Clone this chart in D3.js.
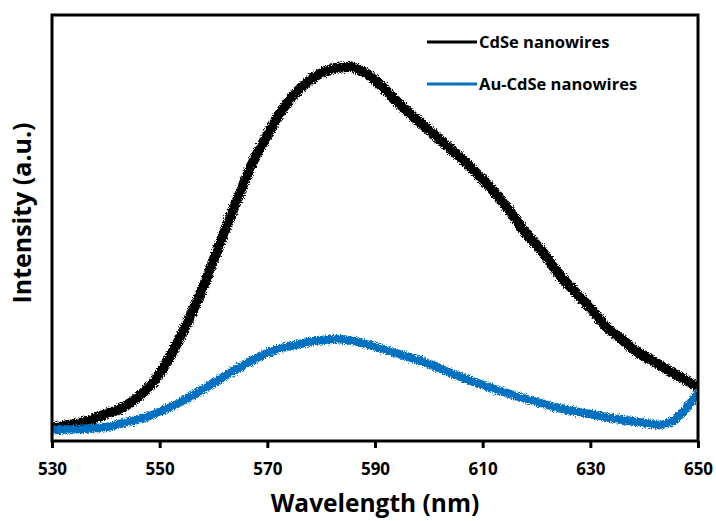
<!DOCTYPE html>
<html>
<head>
<meta charset="utf-8">
<script src="https://cdn.jsdelivr.net/npm/d3@7"></script>
<style>
  html, body { margin: 0; padding: 0; background: #fff; }
  svg { display: block; }
  text { font-family: "Open Sans", Lato, sans-serif; font-weight: 700; fill: #000; }
</style>
</head>
<body>
<svg id="chart" width="716" height="521"></svg>
<script>
// ---- data ----
const wavelengthsCdSe = [530,533,536,540,543,546,549,552,555,558,561,564,567,570,573,576,579,582,585,588,591,594,597,600,603,606,609,612,615,618,621,624,627,630,633,636,639,642,645,648,650];
const intensityCdSe   = [13,16,19,27,33,44,60,85,117,153,195,236,275,306,333,352,365,372,374,369,356,340,325,311,297,283,267,250,230,208,190,168,150,133,114,101,88,79,69,60,54];

const wavelengthsAu = [530,535,540,544,548,552,556,560,564,568,572,576,580,583,586,589,592,595,600,605,610,615,620,625,630,635,640,643,645,647,649,650];
const intensityAu   = [11,12,14,19,25,34,45,58,71,83,92,97,101,102,100,96,91,86,77,66,56,47,39,32,27,22,18,16,19,28,41,49];

const xTicks = [530,550,570,590,610,630,650];
const seriesNames = ["CdSe nanowires", "Au-CdSe nanowires"];
const seriesColors = ["#000000", "#0070c0"];
const xTitle = "Wavelength (nm)";
const yTitle = "Intensity (a.u.)";

// ---- layout ----
const W = 716, H = 521;
const m = { left: 52, right: 18, top: 15, bottom: 80 };
const svg = d3.select("#chart");

const x = d3.scaleLinear().domain([530, 650]).range([m.left, W - m.right]);
const y = d3.scaleLinear().domain([0, 426]).range([H - m.bottom, m.top]);

// rough-edge filter to mimic the noisy spectra
const defs = svg.append("defs");
const f = defs.append("filter").attr("id", "rough").attr("x", "-5%").attr("y", "-5%").attr("width", "110%").attr("height", "110%");
f.append("feTurbulence").attr("type", "fractalNoise").attr("baseFrequency", "0.9").attr("numOctaves", 2).attr("seed", 3).attr("result", "n");
f.append("feDisplacementMap").attr("in", "SourceGraphic").attr("in2", "n").attr("scale", 6).attr("xChannelSelector", "R").attr("yChannelSelector", "G");

const clip = defs.append("clipPath").attr("id", "plotclip");
clip.append("rect").attr("x", m.left).attr("y", m.top).attr("width", W - m.left - m.right).attr("height", H - m.top - m.bottom);

const line = d3.line().curve(d3.curveMonotoneX).x(d => x(d[0])).y(d => y(d[1]));

const series = [
  { name: seriesNames[0], color: seriesColors[0], pts: d3.zip(wavelengthsCdSe, intensityCdSe), width: 10 },
  { name: seriesNames[1], color: seriesColors[1], pts: d3.zip(wavelengthsAu, intensityAu), width: 8.5 }
];

const plot = svg.append("g").attr("clip-path", "url(#plotclip)");
series.forEach(s => {
  plot.append("path")
    .datum(s.pts)
    .attr("d", line)
    .attr("fill", "none")
    .attr("stroke", s.color)
    .attr("stroke-width", s.width)
    .attr("stroke-linejoin", "round")
    .attr("filter", "url(#rough)");
});

// frame
svg.append("rect")
  .attr("x", m.left).attr("y", m.top)
  .attr("width", W - m.left - m.right).attr("height", H - m.top - m.bottom)
  .attr("fill", "none").attr("stroke", "#000").attr("stroke-width", 3);

// x axis
const xAxis = svg.append("g")
  .attr("transform", `translate(0,${H - m.bottom})`)
  .call(d3.axisBottom(x).tickValues(xTicks).tickSize(7).tickPadding(15).tickFormat(d3.format("d")));
xAxis.select(".domain").remove();
xAxis.selectAll(".tick line").attr("stroke", "#000").attr("stroke-width", 3);
xAxis.selectAll(".tick text").style("font-size", "17px").style("font-family", "'Open Sans', Lato, sans-serif").style("font-weight", 700).attr("fill", "#000");

// axis titles
svg.append("text")
  .attr("x", (m.left + W - m.right) / 2).attr("y", 512)
  .attr("text-anchor", "middle")
  .style("font-size", "24.5px")
  .text(xTitle);

svg.append("text")
  .attr("transform", `translate(31,213) rotate(-90)`)
  .attr("text-anchor", "middle")
  .style("font-size", "25px")
  .text(yTitle);

// legend
const leg = svg.append("g");
series.forEach((s, i) => {
  const ly = 42 + i * 42;
  leg.append("line").attr("x1", 427).attr("x2", 477).attr("y1", ly).attr("y2", ly)
    .attr("stroke", s.color).attr("stroke-width", 3);
  leg.append("text").attr("x", 479).attr("y", ly + 6).style("font-size", "16.5px").text(s.name);
});
</script>
</body>
</html>
